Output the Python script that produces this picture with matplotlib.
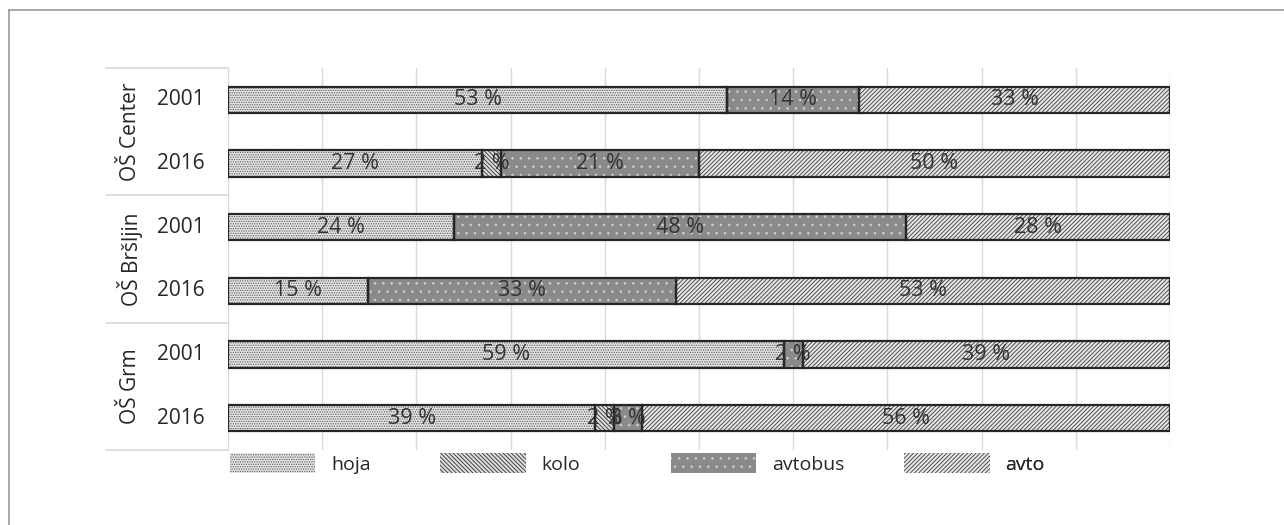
import matplotlib
matplotlib.use('Agg')
import matplotlib.pyplot as plt
from matplotlib.patches import Patch
from matplotlib.lines import Line2D
import numpy as np

plt.rcParams['font.family'] = ['Open Sans', 'DejaVu Sans']
plt.rcParams['hatch.linewidth'] = 0.6

# data
groups = ['OŠ Center', 'OŠ Bršljin', 'OŠ Grm']
years = ['2001', '2016']
modes = ['hoja', 'kolo', 'avtobus', 'avto']
# one row per (group, year), in the order drawn top to bottom
hoja = [53, 27, 24, 15, 59, 39]
kolo = [0, 2, 0, 0, 0, 2]
avtobus = [14, 21, 48, 33, 2, 3]
avto = [33, 50, 28, 53, 39, 56]

# pattern styles: face, hatch colour, hatch
styles = {
    'hoja': ('#e4e4e4', '#5a5a5a', '.......'),
    'kolo': ('#dcdcdc', '#2e2e2e', '\\\\\\\\\\\\\\\\'),
    'avtobus': ('#8a8a8a', '#cfcfcf', '..'),
    'avto': ('#e6e6e6', '#3a3a3a', '////////'),
}

fig = plt.figure(figsize=(12.84, 5.25), dpi=100)
ax = fig.add_axes([228/1284, 1-450/525, 942/1284, 382/525])

vals = np.array([hoja, kolo, avtobus, avto], dtype=float)
pct = vals / vals.sum(axis=0) * 100
y = np.arange(len(hoja)) + 0.5
h = 0.41

lab_font = ['Liberation Sans Narrow', 'Open Sans', 'DejaVu Sans']

left = np.zeros(len(hoja))
for i, m in enumerate(modes):
    fc, hc, ht = styles[m]
    ax.barh(y, pct[i], h, left=left, color=fc, edgecolor=hc, hatch=ht,
            linewidth=0, zorder=2)
    ax.barh(y, pct[i], h, left=left, facecolor='none', edgecolor='#262626',
            linewidth=1.6, zorder=3)
    for j in range(len(hoja)):
        if vals[i, j] > 0:
            ax.text(left[j] + pct[i, j]/2, y[j], '%d %%' % vals[i, j],
                    ha='center', va='center', fontsize=15.5, color='#333333',
                    family=lab_font, zorder=4)
    left += pct[i]

ax.set_xlim(0, 100)
ax.set_ylim(len(hoja), 0)
ax.set_xticks(np.arange(0, 101, 10))
ax.set_yticks([])
ax.tick_params(axis='x', length=0, labelbottom=False)
ax.grid(axis='x', color='#d9d9d9', linewidth=1)
ax.set_axisbelow(True)
for s in ax.spines.values():
    s.set_visible(False)

# category axis: years and rotated group names, with separators
tr = ax.get_yaxis_transform()
for j in range(len(hoja)):
    ax.text(-0.05, y[j], years[j % 2], transform=tr, ha='center', va='center',
            fontsize=15, color='#262626')
for g, name in enumerate(groups):
    ax.text(-0.104, 2*g + 1, name, transform=tr, ha='center', va='center',
            rotation=90, fontsize=15, color='#262626')
for b in range(0, 7, 2):
    ax.plot([-0.13, 0], [b, b], transform=tr, color='#d9d9d9', lw=1.2,
            clip_on=False)

# legend, one entry per slot
slots = [0.002, 0.225, 0.47, 0.718]
for m, sx in zip(modes, slots):
    hd = Patch(facecolor=styles[m][0], edgecolor=styles[m][1],
               hatch=styles[m][2], linewidth=0)
    lg = ax.legend([hd], [m], loc='upper left', bbox_to_anchor=(sx, -0.008),
                   frameon=False, fontsize=14, handlelength=4.4,
                   handleheight=1.2, handletextpad=0.8, borderpad=0,
                   borderaxespad=0, labelcolor='#262626')
    ax.add_artist(lg)

# outer frame (only top and left edges visible)
fig.add_artist(Line2D([9/1284, 9/1284], [0, 1-10/525], color='#9a9a9a', lw=1.2))
fig.add_artist(Line2D([9/1284, 1], [1-10/525, 1-10/525], color='#9a9a9a', lw=1.2))

fig.savefig('out.png', dpi=100)
